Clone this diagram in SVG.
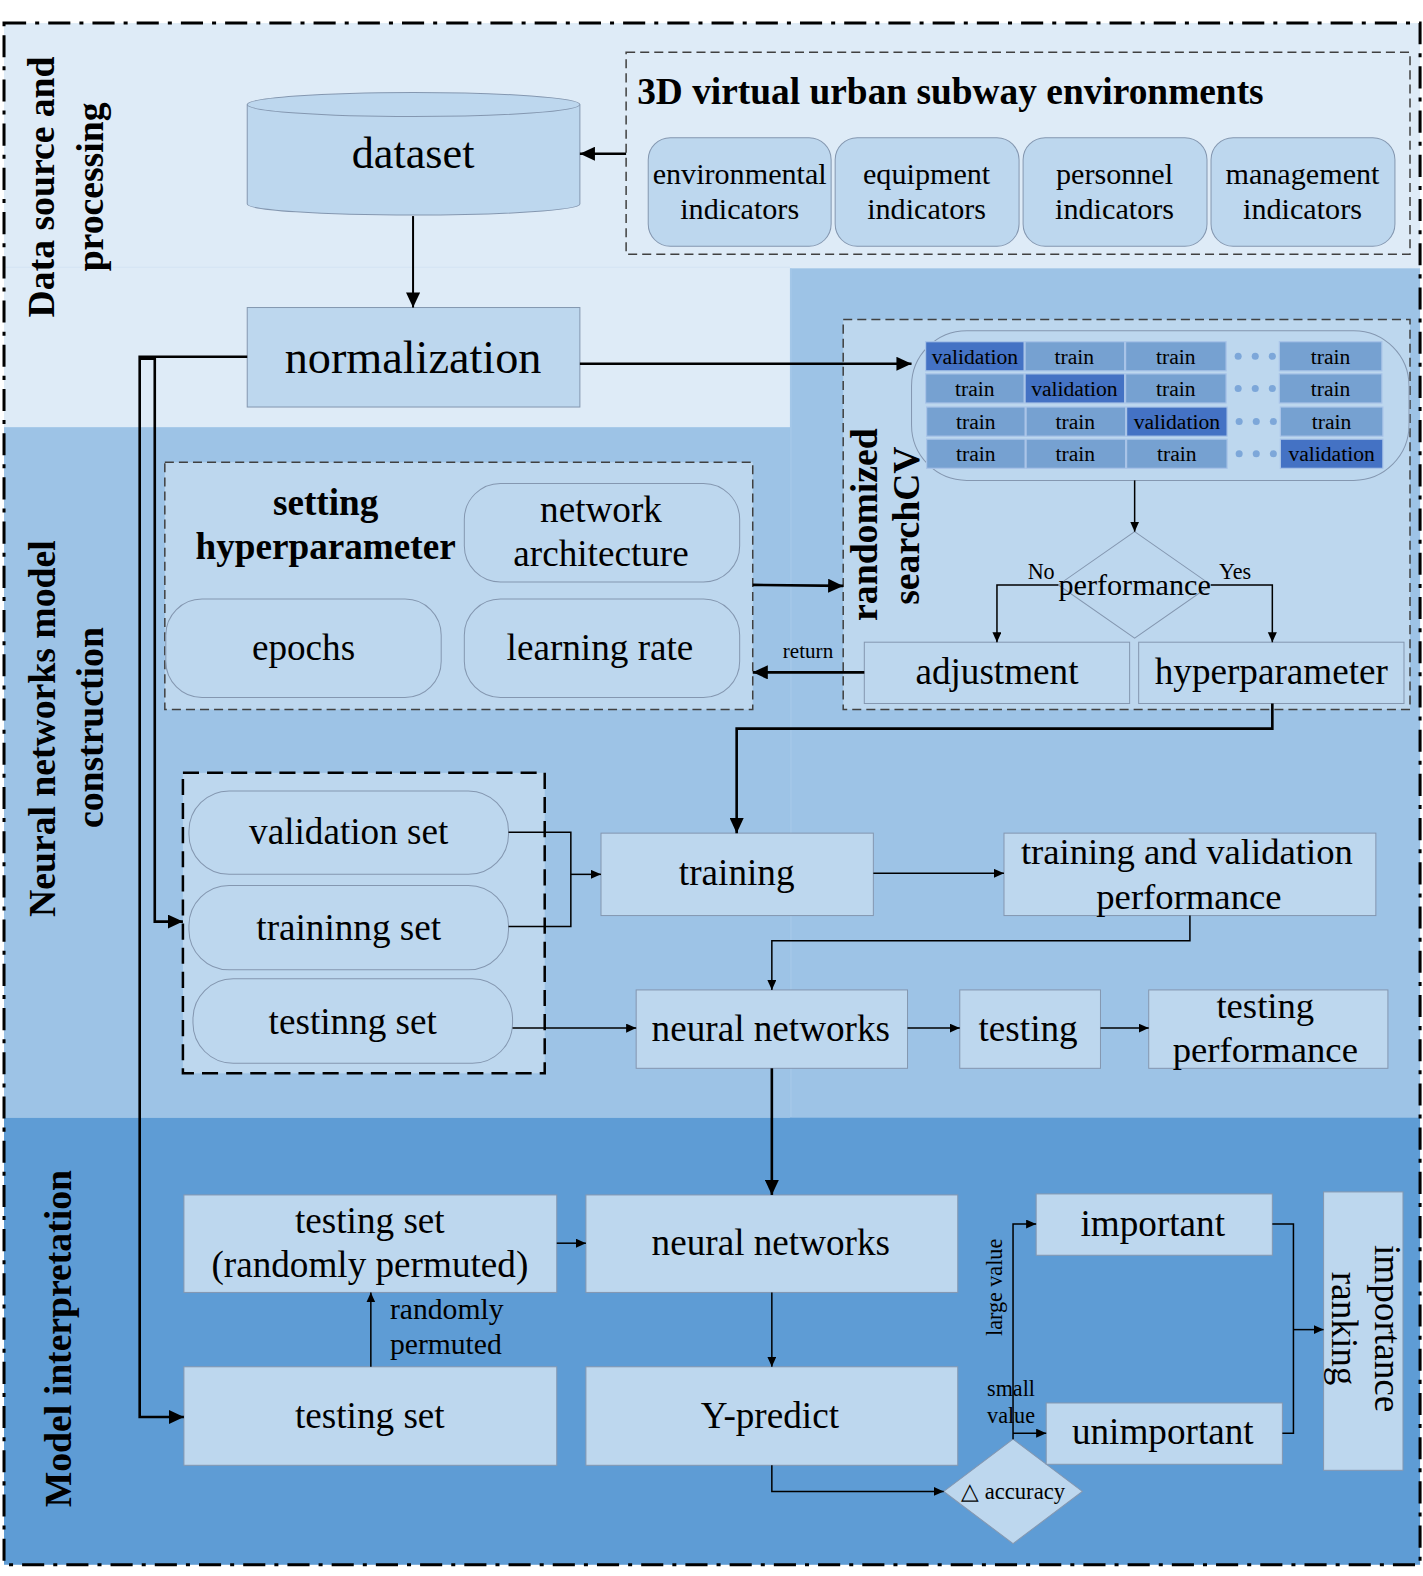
<svg xmlns="http://www.w3.org/2000/svg" width="1423" height="1576" viewBox="0 0 1423 1576">
<defs>
<style>
.t{font-family:"Liberation Serif","Times New Roman",serif;fill:#000;}
.b{font-weight:bold;}
.m{text-anchor:middle;}
.node{fill:#BDD7EE;stroke:#8497B0;stroke-width:1;}
.dash{fill:#BDD7EE;stroke:#404040;stroke-width:1.5;stroke-dasharray:9 5;}
.c1{fill:none;stroke:#000;stroke-width:1.5;}
.c2{fill:none;stroke:#000;stroke-width:2.6;}
.val{fill:#4472C4;stroke:#A9C4E8;stroke-width:1.2;}
.trn{fill:#76A1D1;stroke:#A9C4E8;stroke-width:1.2;}
.dot{fill:#7DA7D9;}
</style>
<marker id="ab" markerUnits="userSpaceOnUse" markerWidth="16" markerHeight="14" refX="15" refY="7" orient="auto"><path d="M0,0 L15,7 L0,14 z" fill="#000"/></marker>
<marker id="at" markerUnits="userSpaceOnUse" markerWidth="11" markerHeight="10" refX="10" refY="4.5" orient="auto"><path d="M0,0 L10,4.5 L0,9 z" fill="#000"/></marker>
</defs>
<rect x="0" y="0" width="1423" height="1576" fill="#FFFFFF"/>
<g transform="scale(1.005)">
<g id="background">
<rect x="4" y="23" width="1409" height="402" fill="#DEEBF7"/>
<line x1="4" y1="266" x2="786" y2="266" stroke="#D3E3F3" stroke-width="1"/>
<rect x="4" y="425" width="1409" height="687" fill="#9DC3E6"/>
<rect x="786" y="267" width="627" height="845" fill="#9DC3E6"/>
<line x1="787" y1="267" x2="787" y2="1112" stroke="#A8CAEA" stroke-width="1"/>
<rect x="4" y="1112" width="1409" height="445" fill="#5E9CD5"/>
<rect x="4" y="23" width="1409" height="1534" fill="none" stroke="#000" stroke-width="3" stroke-dasharray="22 9 4 9"/>
</g>

<g id="section-labels">
<text class="t b m" font-size="37.5" transform="translate(54,186) rotate(-90)">Data source and</text>
<text class="t b m" font-size="37.5" transform="translate(102,186) rotate(-90)">processing</text>
<text class="t b m" font-size="37.5" transform="translate(55,725) rotate(-90)">Neural networks model</text>
<text class="t b m" font-size="37.5" transform="translate(102,724) rotate(-90)">construction</text>
<text class="t b m" font-size="37.5" transform="translate(71,1332) rotate(-90)">Model interpretation</text>
</g>

<g id="env-group">
<rect x="623" y="52" width="780" height="201" fill="none" stroke="#404040" stroke-width="1.5" stroke-dasharray="9 5"/>
<text class="t b" font-size="37.2" x="634" y="103">3D virtual urban subway environments</text>
</g>
<g id="ind-env"><rect class="node" x="645" y="137" width="182" height="108" rx="22"/><text class="t m" font-size="30" x="736" y="183">environmental</text><text class="t m" font-size="30" x="736" y="218">indicators</text></g>
<g id="ind-equip"><rect class="node" x="831" y="137" width="183" height="108" rx="22"/><text class="t m" font-size="30" x="922" y="183">equipment</text><text class="t m" font-size="30" x="922" y="218">indicators</text></g>
<g id="ind-pers"><rect class="node" x="1018" y="137" width="183" height="108" rx="22"/><text class="t m" font-size="30" x="1109" y="183">personnel</text><text class="t m" font-size="30" x="1109" y="218">indicators</text></g>
<g id="ind-mgmt"><rect class="node" x="1205" y="137" width="183" height="108" rx="22"/><text class="t m" font-size="30" x="1296" y="183">management</text><text class="t m" font-size="30" x="1296" y="218">indicators</text></g>

<g id="dataset">
<path class="node" d="M246,104 L246,203 A165.5,11 0 0 0 577,203 L577,104"/>
<ellipse class="node" cx="411.5" cy="104" rx="165.5" ry="12"/>
<text class="t m" font-size="44" x="411" y="167">dataset</text>
</g>

<g id="normalization">
<rect class="node" x="246" y="306" width="331" height="99"/>
<text class="t m" font-size="46" x="411" y="371">normalization</text>
</g>

<g id="randomized-searchcv">
<rect class="dash" x="839" y="318" width="564" height="388"/>
<text class="t b m" font-size="37.5" transform="translate(873,522) rotate(-90)">randomized</text>
<text class="t b m" font-size="37.5" transform="translate(914,523) rotate(-90)">searchCV</text>
</g>

<g id="cv-grid">
<rect x="907" y="329" width="495" height="149" rx="55" fill="#BDD7EE" stroke="#8497B0" stroke-width="1"/>
<rect class="val" x="921" y="340" width="98" height="29"/><rect class="trn" x="1020" y="340" width="99" height="29"/><rect class="trn" x="1120" y="340" width="100" height="29"/><rect class="trn" x="1273" y="340" width="102" height="29"/>
<rect class="trn" x="921" y="372" width="98" height="29"/><rect class="val" x="1020" y="372" width="99" height="29"/><rect class="trn" x="1120" y="372" width="100" height="29"/><rect class="trn" x="1273" y="372" width="102" height="29"/>
<rect class="trn" x="922" y="405" width="98" height="29"/><rect class="trn" x="1021" y="405" width="99" height="29"/><rect class="val" x="1121" y="405" width="100" height="29"/><rect class="trn" x="1274" y="405" width="102" height="29"/>
<rect class="trn" x="922" y="437" width="98" height="29"/><rect class="trn" x="1021" y="437" width="99" height="29"/><rect class="trn" x="1121" y="437" width="100" height="29"/><rect class="val" x="1274" y="437" width="102" height="29"/>
<g class="t m" font-size="21.5">
<text x="970" y="362">validation</text><text x="1069" y="362">train</text><text x="1170" y="362">train</text><text x="1324" y="362">train</text>
<text x="970" y="394">train</text><text x="1069" y="394">validation</text><text x="1170" y="394">train</text><text x="1324" y="394">train</text>
<text x="971" y="427">train</text><text x="1070" y="427">train</text><text x="1171" y="427">validation</text><text x="1325" y="427">train</text>
<text x="971" y="459">train</text><text x="1070" y="459">train</text><text x="1171" y="459">train</text><text x="1325" y="459">validation</text>
</g>
<circle class="dot" cx="1232" cy="354.5" r="3.5"/><circle class="dot" cx="1249" cy="354.5" r="3.5"/><circle class="dot" cx="1266" cy="354.5" r="3.5"/>
<circle class="dot" cx="1232" cy="386.5" r="3.5"/><circle class="dot" cx="1249" cy="386.5" r="3.5"/><circle class="dot" cx="1266" cy="386.5" r="3.5"/>
<circle class="dot" cx="1233" cy="419.5" r="3.5"/><circle class="dot" cx="1250" cy="419.5" r="3.5"/><circle class="dot" cx="1267" cy="419.5" r="3.5"/>
<circle class="dot" cx="1233" cy="451.5" r="3.5"/><circle class="dot" cx="1250" cy="451.5" r="3.5"/><circle class="dot" cx="1267" cy="451.5" r="3.5"/>
</g>

<g id="performance">
<path class="node" d="M1129,529 L1205,582 L1129,635 L1053,582 Z"/>
<text class="t m" font-size="30" x="1129" y="592">performance</text>
</g>

<g id="adjustment">
<rect class="node" x="860" y="639" width="264" height="61"/>
<text class="t m" font-size="37" x="992" y="681">adjustment</text>
</g>
<g id="hyperparameter">
<rect class="node" x="1133" y="639" width="264" height="61"/>
<text class="t m" font-size="37" x="1265" y="681">hyperparameter</text>
</g>

<g id="setting-hyperparameter">
<rect class="dash" x="164" y="460" width="585" height="246"/>
<text class="t b m" font-size="37" x="324" y="512">setting</text>
<text class="t b m" font-size="37" x="324" y="556">hyperparameter</text>
</g>
<g id="network-architecture"><rect class="node" x="462" y="481" width="274" height="98" rx="36"/><text class="t m" font-size="37" x="598" y="519">network</text><text class="t m" font-size="37" x="598" y="563">architecture</text></g>
<g id="epochs"><rect class="node" x="165" y="596" width="274" height="98" rx="36"/><text class="t m" font-size="37" x="302" y="657">epochs</text></g>
<g id="learning-rate"><rect class="node" x="462" y="596" width="274" height="98" rx="36"/><text class="t m" font-size="37" x="597" y="657">learning rate</text></g>

<g id="data-sets">
<rect x="182" y="769" width="360" height="299" fill="#BDD7EE" stroke="#000" stroke-width="2.5" stroke-dasharray="16 8"/>
</g>
<g id="validation-set"><rect class="node" x="188" y="787" width="318" height="83" rx="40"/><text class="t m" font-size="37" x="347" y="840">validation set</text></g>
<g id="training-set"><rect class="node" x="188" y="881" width="318" height="84" rx="40"/><text class="t m" font-size="37" x="347" y="935">traininng set</text></g>
<g id="testing-set-1"><rect class="node" x="192" y="974" width="318" height="84" rx="40"/><text class="t m" font-size="37" x="351" y="1029">testinng set</text></g>

<g id="training"><rect class="node" x="598" y="829" width="271" height="82"/><text class="t m" font-size="37" x="733" y="881">training</text></g>
<g id="tv-performance"><rect class="node" x="999" y="829" width="370" height="82"/><text class="t m" font-size="36.5" x="1181" y="860">training and validation</text><text class="t m" font-size="36.5" x="1183" y="904">performance</text></g>
<g id="neural-networks-1"><rect class="node" x="633" y="985" width="270" height="78"/><text class="t m" font-size="37" x="767" y="1036">neural networks</text></g>
<g id="testing"><rect class="node" x="955" y="985" width="140" height="78"/><text class="t m" font-size="37" x="1023" y="1036">testing</text></g>
<g id="testing-performance"><rect class="node" x="1143" y="985" width="238" height="78"/><text class="t m" font-size="36.5" x="1259" y="1013">testing</text><text class="t m" font-size="36.5" x="1259" y="1057">performance</text></g>

<g id="testing-set-permuted"><rect class="node" x="183" y="1189" width="371" height="97"/><text class="t m" font-size="37" x="368" y="1227">testing set</text><text class="t m" font-size="37" x="368" y="1271">(randomly permuted)</text></g>
<g id="neural-networks-2"><rect class="node" x="583" y="1189" width="370" height="97"/><text class="t m" font-size="37" x="767" y="1249">neural networks</text></g>
<g id="testing-set-2"><rect class="node" x="183" y="1360" width="371" height="98"/><text class="t m" font-size="37" x="368" y="1421">testing set</text></g>
<g id="y-predict"><rect class="node" x="583" y="1360" width="370" height="98"/><text class="t m" font-size="37" x="766" y="1421">Y-predict</text></g>
<g id="accuracy"><path class="node" d="M1008,1432 L1077,1484 L1008,1536 L939,1484 Z"/><text class="t m" font-size="22.5" x="1008" y="1492">△ accuracy</text></g>
<g id="important"><rect class="node" x="1031" y="1188" width="235" height="61"/><text class="t m" font-size="37" x="1147" y="1230">important</text></g>
<g id="unimportant"><rect class="node" x="1041" y="1396" width="235" height="61"/><text class="t m" font-size="37" x="1157" y="1437">unimportant</text></g>
<g id="importance-ranking"><rect class="node" x="1317" y="1186" width="79" height="277"/><text class="t m" font-size="37" transform="translate(1368,1322) rotate(90)">importance</text><text class="t m" font-size="37" transform="translate(1325,1322) rotate(90)">ranking</text></g>

<g id="connectors">
<path class="c2" d="M623,153 L577,153" marker-end="url(#ab)"/>
<path class="c1" style="stroke-width:2" d="M411,215 L411,306" marker-end="url(#ab)"/>
<path class="c2" d="M577,362 L907,362" marker-end="url(#ab)"/>
<path class="c2" d="M246,355 L139,355 L139,1410 L183,1410" marker-end="url(#ab)"/>
<path class="c2" d="M139,357 L154,357 L154,917 L182,917" marker-end="url(#ab)"/>
<path class="c2" d="M749,582 L839,583" marker-end="url(#ab)"/>
<path class="c2" d="M860,669 L749,669" marker-end="url(#ab)"/>
<path class="c1" d="M1129,478 L1129,529" marker-end="url(#at)"/>
<path class="c1" d="M1053,582 L992,582 L992,639" marker-end="url(#at)"/>
<path class="c1" d="M1205,582 L1266,582 L1266,639" marker-end="url(#at)"/>
<path class="c2" d="M1266,700 L1266,725 L733,725 L733,829" marker-end="url(#ab)"/>
<path class="c1" d="M506,828 L568,828 L568,922 L506,922"/>
<path class="c1" d="M568,870 L598,870" marker-end="url(#at)"/>
<path class="c1" d="M869,869 L999,869" marker-end="url(#at)"/>
<path class="c1" d="M1184,911 L1184,936 L768,936 L768,985" marker-end="url(#at)"/>
<path class="c1" d="M510,1023 L633,1023" marker-end="url(#at)"/>
<path class="c1" d="M903,1023 L955,1023" marker-end="url(#at)"/>
<path class="c1" d="M1095,1023 L1143,1023" marker-end="url(#at)"/>
<path class="c2" d="M768,1063 L768,1189" marker-end="url(#ab)"/>
<path class="c1" d="M554,1237 L583,1237" marker-end="url(#at)"/>
<path class="c1" d="M369,1360 L369,1286" marker-end="url(#at)"/>
<path class="c1" d="M768,1286 L768,1360" marker-end="url(#at)"/>
<path class="c1" d="M768,1458 L768,1484 L939,1484" marker-end="url(#at)"/>
<path class="c1" d="M1008,1432 L1008,1218 L1031,1218" marker-end="url(#at)"/>
<path class="c1" d="M1008,1426 L1041,1426" marker-end="url(#at)"/>
<path class="c1" d="M1266,1218 L1287,1218 L1287,1426 L1276,1426"/>
<path class="c1" d="M1287,1323 L1317,1323" marker-end="url(#at)"/>
</g>

<g id="connector-labels">
<text class="t m" font-size="21" x="804" y="655">return</text>
<text class="t m" font-size="22" x="1036" y="576">No</text>
<text class="t m" font-size="22" x="1229" y="576">Yes</text>
<text class="t" font-size="29.5" x="388" y="1312">randomly</text>
<text class="t" font-size="29.5" x="388" y="1347">permuted</text>
<text class="t m" font-size="22" transform="translate(997,1281) rotate(-90)">large value</text>
<text class="t m" font-size="22" x="1006" y="1389">small</text>
<text class="t m" font-size="22" x="1006" y="1416">value</text>
</g>
</g>
</svg>
